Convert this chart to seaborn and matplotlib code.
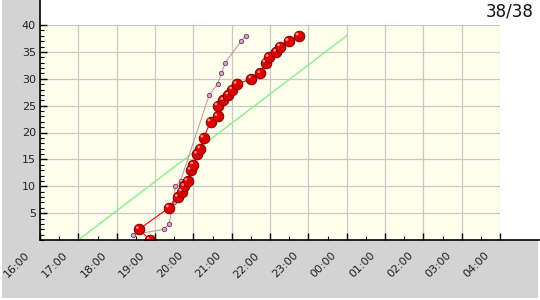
import matplotlib
matplotlib.use("Agg")
import matplotlib.pyplot as plt
import matplotlib.transforms as mtransforms
from matplotlib.patches import Rectangle
from matplotlib.ticker import MultipleLocator
import seaborn as sns
import pandas as pd

sns.set_theme(style="white")
plt.rcParams["font.family"] = ["DejaVu Sans"]

# ---- data ----
title_text = "38/38"
tick_labels = ["16:00", "17:00", "18:00", "19:00", "20:00", "21:00", "22:00",
               "23:00", "00:00", "01:00", "02:00", "03:00", "04:00"]

main_times = ["18:52", "18:35", "19:22", "19:36", "19:42", "19:46", "19:51", "19:56",
              "20:00", "20:06", "20:11", "20:16", "20:27", "20:38", "20:38", "20:47",
              "20:55", "21:01", "21:08", "21:31", "21:45", "21:53", "21:58", "22:10",
              "22:16", "22:29", "22:45"]
main_counts = [0, 2, 6, 8, 9, 10, 11, 13, 14, 16, 17, 19, 22, 23, 25, 26, 27, 28, 29,
               30, 31, 33, 34, 35, 36, 37, 38]

ref_times = ["18:26", "19:14", "19:22", "19:29", "19:32", "19:40", "20:25", "20:38",
             "20:44", "20:50", "21:15", "21:22"]
ref_counts = [1, 2, 3, 7, 10, 11, 27, 29, 31, 33, 37, 38]

target_times = ["17:00", "00:00"]
target_counts = [0, 38]


def to_hours(t):
    h, m = t.split(":")
    h = int(h)
    if h < 12:
        h += 24
    return h + int(m) / 60.0


df_main = pd.DataFrame({"t": [to_hours(t) for t in main_times], "n": main_counts})
df_ref = pd.DataFrame({"t": [to_hours(t) for t in ref_times], "n": ref_counts})
df_tgt = pd.DataFrame({"t": [to_hours(t) for t in target_times], "n": target_counts})
tick_pos = [to_hours(t) for t in tick_labels]

# ---- figure ----
W, H = 540, 300
fig = plt.figure(figsize=(5.4, 3.0), dpi=100, facecolor="white")
gray = "#d3d3d3"
fig.patches.append(Rectangle((2 / W, 2 / H), 38 / W, 298 / H, transform=fig.transFigure,
                             facecolor=gray, edgecolor="none", zorder=-5))
fig.patches.append(Rectangle((2 / W, 2 / H), 536 / W, 58 / H, transform=fig.transFigure,
                             facecolor=gray, edgecolor="none", zorder=-5))

ax = fig.add_axes([40 / W, 60 / H, 460 / W, 215 / H])
ax.set_zorder(1)
ax.set_facecolor("#ffffee")

sns.lineplot(data=df_tgt, x="t", y="n", ax=ax, color="#90ee90", linewidth=1.1,
             sort=False, estimator=None, zorder=2)
sns.lineplot(data=df_ref, x="t", y="n", ax=ax, color="#c89a9a", linewidth=0.8,
             sort=False, estimator=None, marker="o", markersize=3.2,
             markerfacecolor="#d6a3c8", markeredgecolor="#6a4060", markeredgewidth=0.6,
             zorder=3)
sns.lineplot(data=df_main, x="t", y="n", ax=ax, color="#ff0000", linewidth=0.8,
             sort=False, estimator=None, marker="o", markersize=7.6,
             markerfacecolor="#dd0000", markeredgecolor="#780000", markeredgewidth=0.7,
             zorder=4)
# sphere highlight
hl = mtransforms.offset_copy(ax.transData, fig=fig, x=-1.2, y=1.2, units="points")
sns.scatterplot(data=df_main, x="t", y="n", ax=ax, s=4, color="#ff8c8c",
                edgecolor="none", transform=hl, zorder=5, legend=False)

ax.set_xlim(16, 28)
ax.set_ylim(0, 40)
ax.set_xticks(tick_pos)
ax.set_xticklabels(tick_labels, rotation=45, ha="right", va="center",
                   rotation_mode="anchor", fontsize=8, color="#222222")
ax.xaxis.set_minor_locator(MultipleLocator(0.5))
ax.set_yticks([5, 10, 15, 20, 25, 30, 35, 40])
ax.set_yticklabels(["5", "10", "15", "20", "25", "30", "35", "40"], fontsize=8,
                   color="#222222")
ax.yaxis.set_minor_locator(MultipleLocator(1))
ax.tick_params(axis="both", which="both", bottom=True, left=True, top=False, right=False)
ax.tick_params(axis="both", which="major", direction="in", length=5, width=1,
               color="black")
ax.tick_params(axis="both", which="minor", direction="in", length=3, width=0.8,
               color="black")
ax.tick_params(axis="x", which="major", pad=10)
ax.tick_params(axis="y", which="major", pad=3)
for lab in ax.get_xticklabels():
    lab.set_transform(lab.get_transform() +
                      mtransforms.ScaledTranslation(-0.12, 0, fig.dpi_scale_trans))

ax.grid(True, which="major", color="#c8c8c8", linewidth=0.9)
ax.set_axisbelow(True)
for s in ["top", "right", "left", "bottom"]:
    ax.spines[s].set_visible(False)
# extended axis lines
ax.plot([0, 0], [0, 275 / 215], transform=ax.transAxes, color="black", lw=1.2,
        clip_on=False, zorder=6)
ax.plot([0, 500 / 460], [0, 0], transform=ax.transAxes, color="black", lw=1.2,
        clip_on=False, zorder=6)
ax.set_xlabel("")
ax.set_ylabel("")

fig.text(534 / W, 1 - 12 / H, title_text, ha="right", va="center", fontsize=12,
         color="#111111")

fig.savefig("out.png", dpi=100, facecolor="white")
